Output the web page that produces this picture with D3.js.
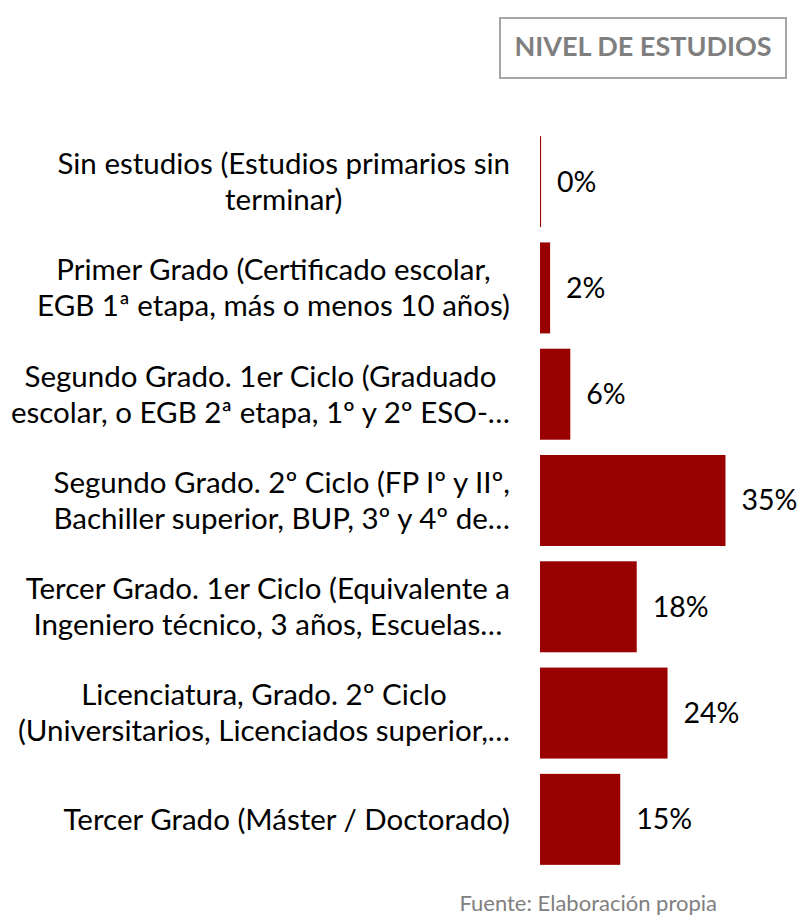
<!DOCTYPE html>
<html><head><meta charset="utf-8">
<script src="https://cdn.jsdelivr.net/npm/d3@7"></script>
<style>body{margin:0;background:#fff}svg{display:block}</style>
</head><body>
<svg id="c" width="802" height="916"></svg>
<script>
const categories = [
  "Sin estudios (Estudios primarios sin\nterminar)",
  "Primer Grado (Certificado escolar,\nEGB 1ª etapa, más o menos 10 años)",
  "Segundo Grado. 1er Ciclo (Graduado\nescolar, o EGB 2ª etapa, 1º y 2º ESO-…",
  "Segundo Grado. 2º Ciclo (FP Iº y IIº,\nBachiller superior, BUP, 3º y 4º de…",
  "Tercer Grado. 1er Ciclo (Equivalente a\nIngeniero técnico, 3 años, Escuelas…",
  "Licenciatura, Grado. 2º Ciclo\n(Universitarios, Licenciados superior,…",
  "Tercer Grado (Máster / Doctorado)"
];
const values = [0.002, 0.019, 0.057, 0.349, 0.182, 0.24, 0.151];
const title = "NIVEL DE ESTUDIOS";
const source = "Fuente: Elaboración propia";

const svg = d3.select("#c");
const font = "Lato, sans-serif";
const x = d3.scaleLinear().domain([0, 0.35]).range([540, 726]);
const y = d3.scaleBand().domain(categories).range([128.5, 872.5]).paddingInner(0.144).paddingOuter(0.072);

// title box
svg.append("rect").attr("x", 500).attr("y", 18).attr("width", 286).attr("height", 60)
  .attr("fill", "#fff").attr("stroke", "#a6a6a6").attr("stroke-width", 2);
svg.append("text").attr("x", 643).attr("y", 56).attr("text-anchor", "middle")
  .attr("font-family", font).attr("font-weight", "bold").attr("font-size", 27)
  .attr("fill", "#7f7f7f").text(title);

// bars
svg.selectAll("rect.bar").data(values).join("rect").attr("class", "bar")
  .attr("x", x(0)).attr("y", (d, i) => y(categories[i]))
  .attr("width", d => Math.max(1, x(d) - x(0))).attr("height", y.bandwidth())
  .attr("fill", "#990000");

// value labels
const fmt = d3.format(".0%");
svg.selectAll("text.val").data(values).join("text").attr("class", "val")
  .attr("x", d => x(d) + 16).attr("y", (d, i) => y(categories[i]) + y.bandwidth() / 2)
  .attr("dy", "0.35em").attr("font-family", font).attr("font-size", 28.5).attr("fill", "#000")
  .text(d => fmt(d));

// category labels
const rightEdge = 510;
categories.forEach((c, i) => {
  const lines = c.split("\n");
  const cy = y(c) + y.bandwidth() / 2;
  const lh = 36;
  const g = svg.append("g");
  const ts = lines.map((l, j) => g.append("text")
    .attr("y", cy + (j - (lines.length - 1) / 2) * lh).attr("dy", "0.35em")
    .attr("font-family", font).attr("font-size", 29.5).attr("fill", "#000")
    .attr("text-anchor", "middle").text(l));
  const maxW = d3.max(ts, t => t.node().getComputedTextLength());
  ts.forEach(t => t.attr("x", rightEdge - maxW / 2));
});

// source
svg.append("text").attr("x", 717).attr("y", 911).attr("text-anchor", "end")
  .attr("font-family", font).attr("font-size", 22).attr("fill", "#808080").text(source);
</script>
</body></html>
